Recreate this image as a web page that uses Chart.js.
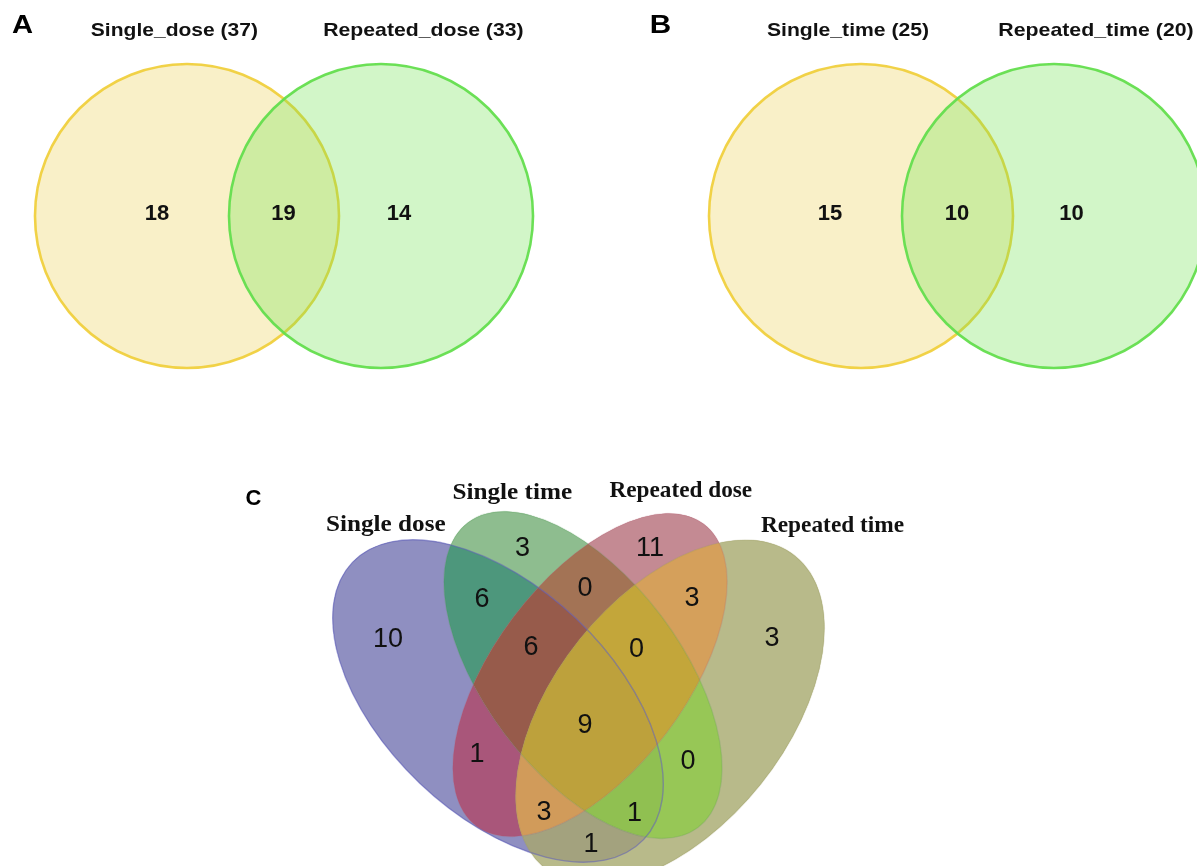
<!DOCTYPE html>
<html>
<head>
<meta charset="utf-8">
<script src="https://cdn.jsdelivr.net/npm/chart.js@4.4.1/dist/chart.umd.min.js"></script>
<style>
  html, body { margin: 0; padding: 0; background: #ffffff; overflow: hidden; }
  canvas { display: block; }
</style>
</head>
<body>
<canvas id="fig" width="1197" height="866"></canvas>
<script>
// ---------- data ----------
const pairDoseSets   = ['Single_dose', 'Repeated_dose'];
const pairDoseTotals = [37, 33];
const pairDoseCounts = [18, 19, 14];          // left only, shared, right only

const pairTimeSets   = ['Single_time', 'Repeated_time'];
const pairTimeTotals = [25, 20];
const pairTimeCounts = [15, 10, 10];

const quadSets    = ['Single dose', 'Single time', 'Repeated dose', 'Repeated time'];
const quadRegions = ['A', 'B', 'C', 'D', 'AB', 'BC', 'CD', 'ABC', 'BCD', 'ABCD', 'AC', 'BD', 'ACD', 'ABD', 'AD'];
const quadCounts  = [10, 3, 11, 3, 6, 0, 3, 6, 0, 9, 1, 0, 3, 1, 1];

// ---------- layout (figure units = pixels of the 1197 x 866 canvas) ----------
const W = 1197, H = 866;

const pairDoseLayout = {
  tag: { text: 'A', x: 22.5, w: 21 },
  circles: [{ x: 187, y: 216, r: 152 }, { x: 381, y: 216, r: 152 }],
  titles: [{ x: 174.4, w: 167 }, { x: 423.4, w: 199 }],
  counts: [[157, 213], [283.5, 213], [399, 213]]
};
const pairTimeLayout = {
  tag: { text: 'B', x: 660.5, w: 19 },
  circles: [{ x: 861, y: 216, r: 152 }, { x: 1054, y: 216, r: 152 }],
  titles: [{ x: 848, w: 162 }, { x: 1096, w: 194 }],
  counts: [[830, 213], [957, 213], [1071.5, 213]]
};

const quadEllipses = [
  { x: 498, y: 701, a: 201, b: 113.5, rot: 43.6 },
  { x: 583, y: 675, a: 191, b: 98,    rot: 53 },
  { x: 590, y: 675, a: 189, b: 96,    rot: -53 },
  { x: 670, y: 712, a: 200, b: 116,   rot: -51.3 }
];
const quadTitlePos = [
  { x: 385.8, y: 531, w: 118.3 },
  { x: 512.3, y: 499, w: 118.5 },
  { x: 680.8, y: 497, w: 142.5 },
  { x: 832.5, y: 532, w: 143 }
];
const quadCountPos = {
  A: [388, 639], B: [522.5, 548], C: [650, 548], D: [772, 638],
  AB: [482, 599], BC: [585, 588], CD: [692, 598],
  ABC: [531, 647], BCD: [636.5, 649], ABCD: [585, 725],
  AC: [477, 754], BD: [688, 761], ACD: [544, 812], ABD: [634.5, 813], AD: [591, 844]
};
const quadTag = { text: 'C', x: 253.5, y: 505, w: 16 };

// ---------- styles ----------
const pairStyles = [
  { fill: 'rgba(235,205,72,0.30)', stroke: 'rgba(240,208,62,0.95)' },
  { fill: 'rgba(105,225,72,0.30)', stroke: 'rgba(100,222,78,0.95)' }
];
const quadSolo = ['#8f8fc1', '#8ebd8f', '#c48a93', '#b8ba8a'];
const quadEdge = ['rgba(95,95,185,0.55)', 'rgba(70,150,80,0.18)', 'rgba(180,90,110,0.18)', 'rgba(150,150,90,0.22)'];
const regionColors = {
  A: '#8f8fc1', B: '#8ebd8f', C: '#c48a93', D: '#b8ba8a',
  AB: '#4d977c', BC: '#a37355', CD: '#d5a05b',
  ABC: '#975b4b', BCD: '#c3a63a', ABCD: '#bda13c',
  AC: '#a9567a', BD: '#97c756', ACD: '#d19b5a', ABD: '#90c051', AD: '#a3a27e'
};
const SANS = "'Liberation Sans', Arial, sans-serif";
const SERIF = "'Liberation Serif', 'Times New Roman', serif";

// ---------- helpers ----------
function fitText(ctx, str, cx, baseline, font, width, color) {
  ctx.save();
  ctx.font = font;
  ctx.fillStyle = color || '#111';
  ctx.textAlign = 'center';
  ctx.textBaseline = 'alphabetic';
  const m = ctx.measureText(str);
  const ink = m.actualBoundingBoxLeft + m.actualBoundingBoxRight;
  const s = width / ink;
  ctx.translate(cx, baseline);
  ctx.scale(s, 1);
  ctx.fillText(str, 0, 0);
  ctx.restore();
}

function toPx(chart, x, y) {
  return { x: chart.scales.x.getPixelForValue(x), y: chart.scales.y.getPixelForValue(y) };
}
function lenX(chart, d) { return Math.abs(chart.scales.x.getPixelForValue(d) - chart.scales.x.getPixelForValue(0)); }
function lenY(chart, d) { return Math.abs(chart.scales.y.getPixelForValue(d) - chart.scales.y.getPixelForValue(0)); }

function ellipsePath(ctx, e) {
  const t = e.rot * Math.PI / 180;
  ctx.moveTo(e.x + e.a * Math.cos(t), e.y + e.a * Math.sin(t));
  ctx.ellipse(e.x, e.y, e.a, e.b, t, 0, Math.PI * 2);
  ctx.closePath();
}

function drawPair(chart, layout) {
  const ctx = chart.ctx;
  layout.circles.forEach((c, i) => {
    const p = toPx(chart, c.x, c.y);
    const rx = lenX(chart, c.r), ry = lenY(chart, c.r);
    ctx.beginPath();
    ctx.ellipse(p.x, p.y, rx, ry, 0, 0, Math.PI * 2);
    ctx.fillStyle = pairStyles[i].fill;
    ctx.fill();
    ctx.lineWidth = 2.6;
    ctx.strokeStyle = pairStyles[i].stroke;
    ctx.stroke();
  });
}

function drawQuad(chart) {
  const ctx = chart.ctx;
  const px = quadEllipses.map(e => {
    const p = toPx(chart, e.x, e.y);
    return { x: p.x, y: p.y, a: lenX(chart, e.a), b: lenX(chart, e.b), rot: e.rot };
  });
  // underlay so that region seams blend into colour, not white
  px.forEach((e, k) => {
    ctx.beginPath(); ellipsePath(ctx, e);
    ctx.fillStyle = quadSolo[k]; ctx.fill();
  });
  // every region of the four-set diagram gets its own fill
  quadRegions.forEach(code => {
    ctx.save();
    px.forEach((e, k) => {
      ctx.beginPath();
      if (code.includes('ABCD'[k])) {
        ellipsePath(ctx, e);
        ctx.clip();
      } else {
        ctx.rect(0, 0, W, H);
        ellipsePath(ctx, e);
        ctx.clip('evenodd');
      }
    });
    ctx.fillStyle = regionColors[code];
    ctx.fillRect(0, 0, W, H);
    ctx.restore();
  });
  // soft outlines
  px.forEach((e, k) => {
    ctx.beginPath(); ellipsePath(ctx, e);
    ctx.lineWidth = 1.4; ctx.strokeStyle = quadEdge[k]; ctx.stroke();
  });
}

const vennPlugin = {
  id: 'vennShapes',
  beforeDatasetsDraw(chart) {
    drawPair(chart, pairDoseLayout);
    drawPair(chart, pairTimeLayout);
    drawQuad(chart);
  },
  afterDatasetsDraw(chart) {
    const ctx = chart.ctx;
    // region counts, placed at the dataset points
    chart.data.datasets.forEach((ds, di) => {
      const meta = chart.getDatasetMeta(di);
      meta.data.forEach((pt, i) => {
        ctx.save();
        ctx.font = ds.labelFont;
        ctx.fillStyle = '#111';
        ctx.textAlign = 'center';
        ctx.textBaseline = 'middle';
        ctx.fillText(String(ds.counts[i]), pt.x, pt.y + 1);
        ctx.restore();
      });
    });
    // panel titles
    [[pairDoseLayout, pairDoseSets, pairDoseTotals], [pairTimeLayout, pairTimeSets, pairTimeTotals]].forEach(([lay, sets, totals]) => {
      const tp = toPx(chart, lay.tag.x, 33);
      fitText(ctx, lay.tag.text, tp.x, tp.y, 'bold 25px ' + SANS, lay.tag.w, '#000');
      sets.forEach((s, i) => {
        const p = toPx(chart, lay.titles[i].x, 36);
        fitText(ctx, s + ' (' + totals[i] + ')', p.x, p.y, 'bold 18.5px ' + SANS, lay.titles[i].w, '#111');
      });
    });
    const cp = toPx(chart, quadTag.x, quadTag.y);
    fitText(ctx, quadTag.text, cp.x, cp.y, 'bold 22px ' + SANS, quadTag.w, '#000');
    quadSets.forEach((s, i) => {
      const p = toPx(chart, quadTitlePos[i].x, quadTitlePos[i].y);
      fitText(ctx, s, p.x, p.y, 'bold 23px ' + SERIF, quadTitlePos[i].w, '#111');
    });
  }
};

new Chart(document.getElementById('fig'), {
  type: 'scatter',
  data: {
    datasets: [
      {
        label: pairDoseSets.join(' vs '),
        data: pairDoseLayout.counts.map(([x, y]) => ({ x, y })),
        counts: pairDoseCounts,
        labelFont: 'bold 22px ' + SANS,
        pointRadius: 0
      },
      {
        label: pairTimeSets.join(' vs '),
        data: pairTimeLayout.counts.map(([x, y]) => ({ x, y })),
        counts: pairTimeCounts,
        labelFont: 'bold 22px ' + SANS,
        pointRadius: 0
      },
      {
        label: quadSets.join(', '),
        data: quadRegions.map(r => ({ x: quadCountPos[r][0], y: quadCountPos[r][1] })),
        counts: quadCounts,
        labelFont: '27px ' + SANS,
        pointRadius: 0
      }
    ]
  },
  options: {
    responsive: false,
    animation: false,
    devicePixelRatio: 1,
    events: [],
    layout: { padding: 0 },
    scales: {
      x: { type: 'linear', min: 0, max: W, display: false },
      y: { type: 'linear', min: 0, max: H, reverse: true, display: false }
    },
    plugins: { legend: { display: false }, tooltip: { enabled: false } }
  },
  plugins: [vennPlugin]
});
</script>
</body>
</html>
